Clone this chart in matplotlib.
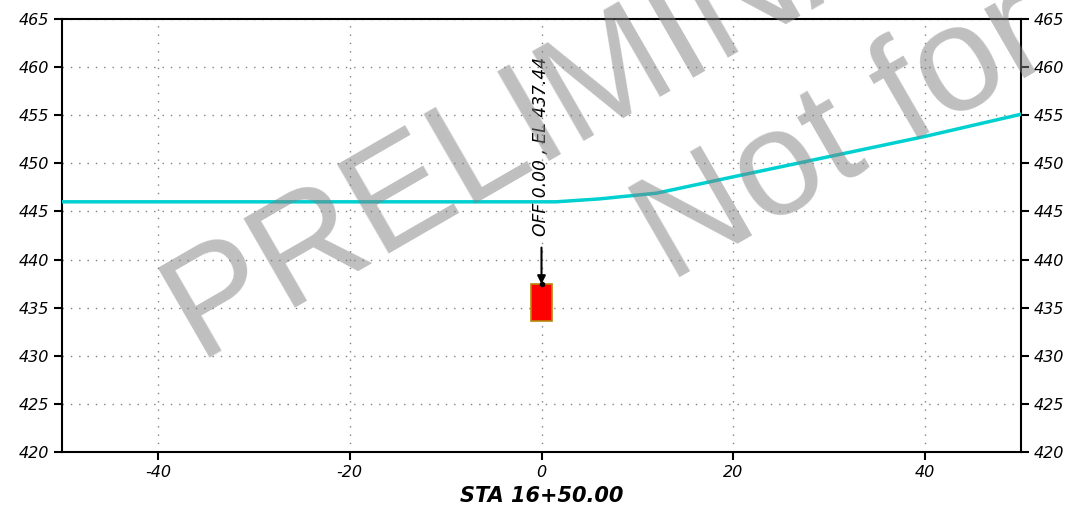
import matplotlib
matplotlib.use("Agg")
import matplotlib.pyplot as plt
from matplotlib.patches import Rectangle

plt.rcParams["axes.unicode_minus"] = False

# data
ground_x = [-50, 1.5, 6, 12, 20, 30, 40, 50]
ground_y = [446.0, 446.0, 446.3, 446.9, 448.6, 450.7, 452.8, 455.1]
pipe_offset = 0.0
pipe_top_el = 437.44
pipe_width = 2.2
pipe_height = 3.8
station_label = "STA 16+50.00"
ann_text = "OFF 0.00 , EL 437.44"
watermark_1 = "PRELIMINARY"
watermark_2 = "Not for Construction"
xlim = (-50, 50)
ylim = (420, 465)
xticks = [-40, -20, 0, 20, 40]
yticks = list(range(420, 466, 5))

fig = plt.figure(figsize=(10.79, 5.08), dpi=100)
ax = fig.add_axes([62/1079, 1-452/508, (1021-62)/1079, (452-19)/508])

ax.plot(ground_x, ground_y, color="#00d0d0", lw=2.5, zorder=3)

rect = Rectangle((pipe_offset - pipe_width/2, pipe_top_el - pipe_height), pipe_width, pipe_height,
                 facecolor="red", edgecolor="#b8860b", lw=1.2, zorder=4)
ax.add_patch(rect)

ax.annotate(ann_text, xy=(pipe_offset, pipe_top_el), xytext=(pipe_offset, 442.4),
            rotation=90, ha="center", va="bottom", fontsize=12.3, style="italic",
            arrowprops=dict(arrowstyle="-|>", color="black", lw=1.5, mutation_scale=12,
                            shrinkA=6, shrinkB=0), zorder=5)
ax.plot([pipe_offset], [pipe_top_el], marker="o", ms=3, color="black", zorder=6)

ax.set_xlim(*xlim)
ax.set_ylim(*ylim)
ax.set_xticks(xticks)
ax.set_yticks(yticks)
ax.grid(True, color="gray", linestyle=(0, (1, 5)), lw=1)
ax.tick_params(axis="both", direction="out", length=6, width=1.5, labelsize=11.5)
ax.tick_params(axis="y", right=True, labelright=True)
for lab in ax.get_xticklabels() + ax.get_yticklabels():
    lab.set_style("italic")
for t in ax.yaxis.get_major_ticks():
    t.label2.set_style("italic")
for s in ax.spines.values():
    s.set_linewidth(1.5)
ax.set_xlabel(station_label, fontsize=15, fontweight="bold", style="italic", labelpad=4)

wm = dict(color="gray", alpha=0.5, rotation_mode="anchor", ha="left", va="baseline", zorder=10,
          family="Liberation Sans", fontsize=108, rotation=30)
fig.text(197/1079, 1-358/508, watermark_1, **wm)
fig.text(670/1079, 1-283/508, watermark_2, **wm)

fig.savefig("out.png", dpi=100)
